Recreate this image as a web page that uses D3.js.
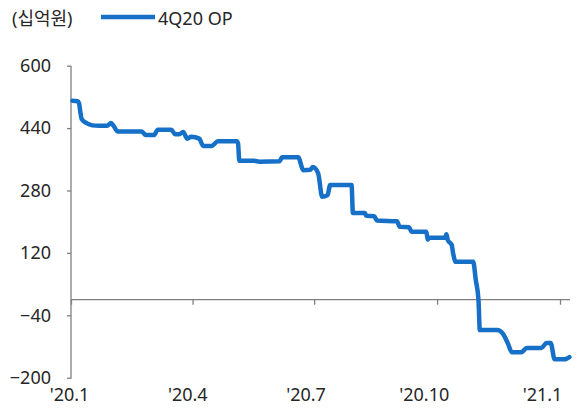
<!DOCTYPE html>
<html><head><meta charset="utf-8">
<script src="https://cdn.jsdelivr.net/npm/d3@7"></script>
<style>
body{margin:0;background:#fff;}
text{font-family:"Noto Sans","Noto Sans CJK KR",sans-serif;}
</style></head>
<body><svg id="c" width="582" height="412"></svg>
<script>
const dates = ["2020-01-02","2020-01-06","2020-01-07","2020-01-08","2020-01-09","2020-01-13","2020-01-17","2020-01-22","2020-01-28","2020-01-31",
"2020-02-02","2020-02-05","2020-02-23","2020-02-26","2020-03-03","2020-03-06","2020-03-16","2020-03-19","2020-03-22","2020-03-25",
"2020-03-28","2020-03-31","2020-04-06","2020-04-09","2020-04-15","2020-04-20","2020-05-04","2020-05-05","2020-05-06","2020-05-17",
"2020-05-21","2020-06-05","2020-06-07","2020-06-19","2020-06-23","2020-06-28","2020-06-30","2020-07-04","2020-07-07","2020-07-11",
"2020-07-13","2020-07-29","2020-07-30","2020-08-08","2020-08-09","2020-08-15","2020-08-17","2020-09-01","2020-09-03","2020-09-10",
"2020-09-12","2020-09-23","2020-09-24","2020-09-25","2020-10-07","2020-10-08","2020-10-09","2020-10-12","2020-10-13","2020-10-15",
"2020-10-28","2020-10-30","2020-11-01","2020-11-02","2020-11-15","2020-11-19","2020-11-23","2020-11-26","2020-12-03","2020-12-07",
"2020-12-18","2020-12-22","2020-12-25","2020-12-28","2021-01-04","2021-01-06","2021-01-08"];
const op4q20 = [510,509,504,481,463,452,447,446,446,453,
445,431,431,422,422,436,436,424,424,430,
413,418,413,394,394,406,406,401,356,356,
354,355,365,365,332,333,340,324,264,268,
294,294,222,222,215,214,203,201,187,186,
174,174,154,159,159,168,153,140,119,97,
97,50,-1,-78,-78,-86,-112,-135,-135,-124,
-124,-111,-111,-153,-153,-151,-147];
const yTicks = [600,440,280,120,-40,-200];
const xTickDates = ["2020-01-01","2020-04-01","2020-07-01","2020-10-01","2021-01-01"];
const xTickLabels = ["'20.1","'20.4","'20.7","'20.10","'21.1"];
const seriesName = "4Q20 OP";
const unitLabel = "(십억원)";

const parse = d3.timeParse("%Y-%m-%d");
const data = dates.map((d,i)=>({date:parse(d), v:op4q20[i]}));
const svg = d3.select("#c");
const x = d3.scaleTime().domain([parse("2020-01-01"), parse("2021-01-01")]).range([71,560]);
const y = d3.scaleLinear().domain([-200,600]).range([377.7,65.7]);
const axisColor = "#7f7f7f", textColor = "#262626";

// y axis
const ya = svg.append("g").attr("transform","translate(71,0)")
  .call(d3.axisLeft(y).tickValues(yTicks).tickSize(4).tickPadding(16).tickFormat(d3.format("d")));
ya.select(".domain").attr("stroke",axisColor).attr("stroke-width",1.3).attr("d","M0,"+y(600)+"V"+(y(-200)+1));
ya.selectAll(".tick line").attr("stroke",axisColor).attr("stroke-width",1.3);
ya.selectAll("text").attr("fill",textColor).style("font-size","18px");

// x axis at zero
const xa = svg.append("g").attr("transform","translate(0,"+y(0)+")")
  .call(d3.axisBottom(x).tickValues(xTickDates.map(parse)).tickSize(5).tickFormat(""));
xa.select(".domain").attr("stroke",axisColor).attr("stroke-width",1.3).attr("d","M71,0H570");
xa.selectAll(".tick line").attr("stroke",axisColor).attr("stroke-width",1.3);

// x labels
const xl = d3.scalePoint().domain(xTickLabels).range([69,542]);
const xla = svg.append("g").attr("transform","translate(0,380)")
  .call(d3.axisBottom(xl).tickSize(0).tickPadding(8));
xla.select(".domain").remove();
xla.selectAll("text").attr("fill",textColor).style("font-size","18px");

// line
const line = d3.line().x(d=>x(d.date)).y(d=>y(d.v)).curve(d3.curveMonotoneX);
svg.append("path").datum(data).attr("d",line).attr("fill","none")
  .attr("stroke","#1670c8").attr("stroke-width",4.5).attr("stroke-linejoin","round").attr("stroke-linecap","round");

// legend
svg.append("text").attr("x",12).attr("y",25).attr("fill",textColor).style("font-size","18px").text(unitLabel);
svg.append("line").attr("x1",101).attr("x2",155).attr("y1",17).attr("y2",17).attr("stroke","#1670c8").attr("stroke-width",4.5);
svg.append("text").attr("x",158).attr("y",25).attr("fill",textColor).style("font-size","18px").text(seriesName);
</script></body></html>
